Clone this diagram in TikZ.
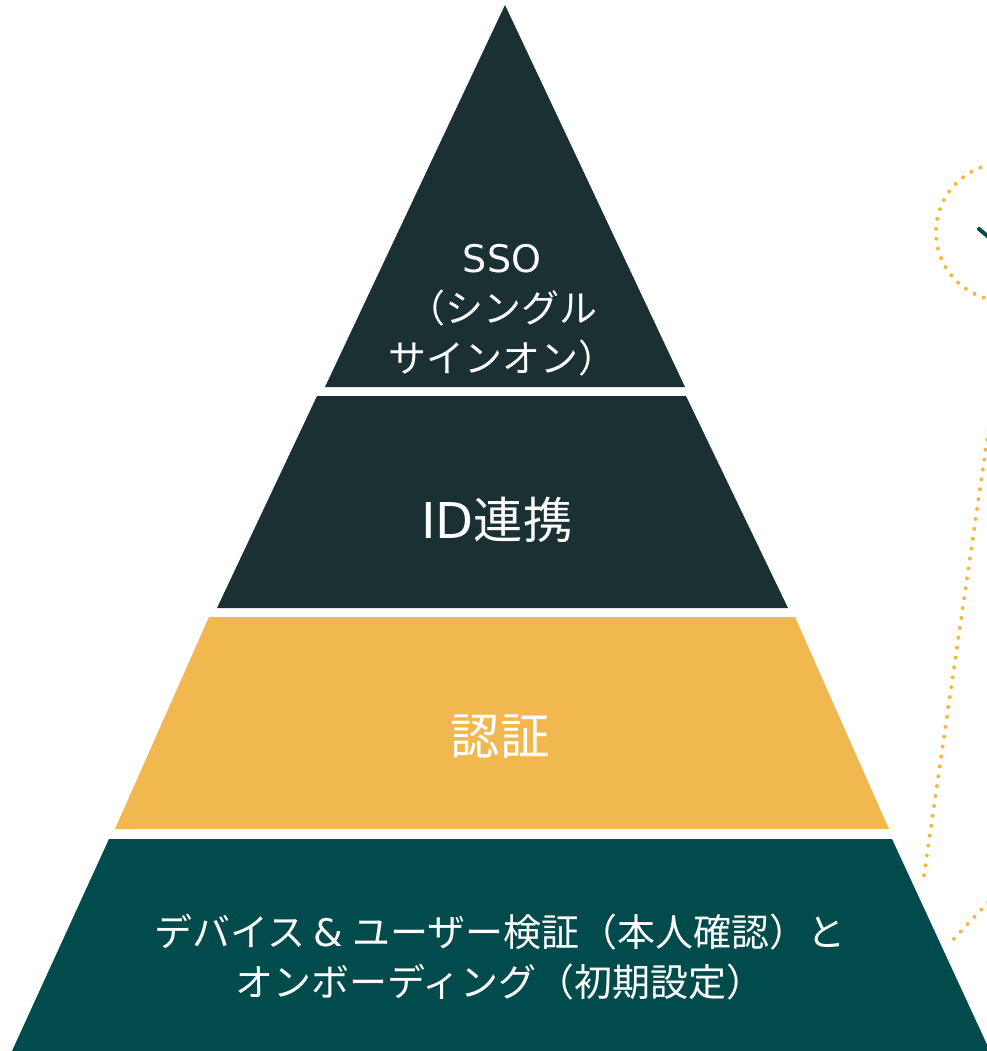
\documentclass[tikz,border=0pt]{standalone}
\usepackage{fontspec}
\setmainfont{Noto Sans CJK JP}
\newfontfamily\latinfont{DejaVu Sans}
\usetikzlibrary{calc}
\definecolor{py_dark}{RGB}{27, 48, 51}
\definecolor{py_gold}{RGB}{242, 184, 80}
\definecolor{py_teal}{RGB}{1, 75, 77}
\definecolor{py_dot}{RGB}{247, 183, 60}
\tikzstyle{lbl}=[text=white,align=center,inner sep=0pt,
  font=\fontsize{28.5}{37.5}\selectfont]
\tikzstyle{biglbl}=[text=white,align=center,inner sep=0pt,
  font=\fontsize{37}{44}\selectfont]
\tikzstyle{dots}=[draw=py_dot,line width=3pt,line cap=round,
  dash pattern=on 0pt off 7.5pt]

\begin{document}
\begin{tikzpicture}[x=0.75pt,y=-0.75pt]
        \useasboundingbox (0,0) rectangle (987,1051);
        \clip (0,0) rectangle (987,1051);
        \fill[py_dark] (505,5) -- (685,387) -- (325,387) -- cycle;
        \fill[py_dark] (317,396) -- (686,396) -- (788,608) -- (217,608) -- cycle;
        \fill[py_gold] (209,617) -- (795,617) -- (889,829) -- (115,829) -- cycle;
        \fill[py_teal] (109,839) -- (892,839) -- (990,1051) -- (12,1051) -- cycle;
        \draw[dots] (1005,232) circle [radius=69];
        \draw[py_teal,line width=3pt,line cap=round] (979,229) -- (997,244);
        \draw[dots] (990,420) -- (923,882);
        \draw[dots] (995,895) -- (950,943);
        \node[style=lbl] (sso) at (502,310) {{\latinfont SSO}\\（シングル\\サインオン）};
        \node[style=biglbl] (fed) at (497,520) {{\latinfont ID}連携};
        \node[style=biglbl] (auth) at (500,737) {認証};
        \node[style=lbl] (dev) at (500,957) {デバイス {\latinfont\&} ユーザー検証（本人確認）と\\オンボーディング（初期設定）};
    \end{tikzpicture}
\end{document}
